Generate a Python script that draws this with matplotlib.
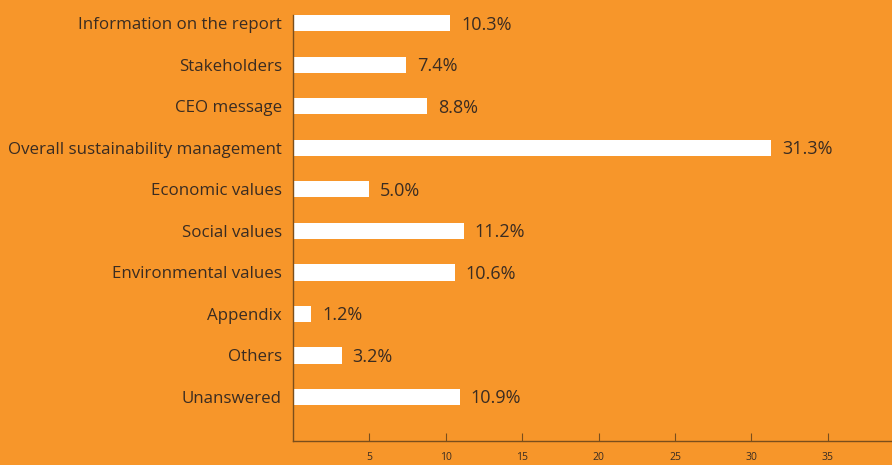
import matplotlib.pyplot as plt

# Share of responses by report section (%)
sections = [
    "Information on the report",
    "Stakeholders",
    "CEO message",
    "Overall sustainability management",
    "Economic values",
    "Social values",
    "Environmental values",
    "Appendix",
    "Others",
    "Unanswered",
]
shares = [10.3, 7.4, 8.8, 31.3, 5.0, 11.2, 10.6, 1.2, 3.2, 10.9]
x_ticks = [5, 10, 15, 20, 25, 30, 35]

bg = "#f7962a"
text_col = "#3a2c22"
axis_col = "#7a4e1c"

plt.rcParams["font.family"] = ["Open Sans", "DejaVu Sans"]

fig = plt.figure(figsize=(8.92, 4.65), dpi=100, facecolor=bg)
ax = fig.add_axes([0.3285, 0.0516, 0.6715, 0.9161], facecolor=bg)

pos = list(range(len(sections)))
ax.barh(pos, shares, height=0.39, color="white", edgecolor="none")

for y, v in zip(pos, shares):
    ax.text(v + 0.7, y + 0.03, f"{v:.1f}%", va="center", ha="left",
            fontsize=13, color=text_col)

ax.set_xlim(0, 39.2)
ax.set_ylim(10.06, -0.2)

ax.set_yticks(pos)
ax.set_yticklabels(sections, fontsize=12.2, color=text_col)
ax.tick_params(axis="y", length=0, pad=8)

ax.set_xticks(x_ticks)
ax.set_xticklabels([str(t) for t in x_ticks], fontsize=7.5, color=text_col)
ax.tick_params(axis="x", direction="in", length=6, width=0.8,
               color=axis_col, pad=8)

for side in ("top", "right"):
    ax.spines[side].set_visible(False)
for side in ("left", "bottom"):
    ax.spines[side].set_color(axis_col)
    ax.spines[side].set_linewidth(1.0)

fig.savefig("out.png", dpi=100, facecolor=bg)
